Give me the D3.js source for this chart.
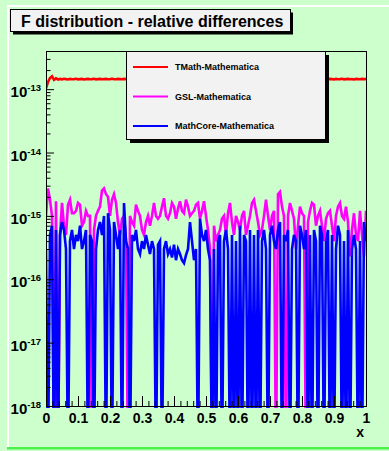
<!DOCTYPE html>
<html>
<head>
<meta charset="utf-8">
<script src="https://cdn.jsdelivr.net/npm/d3@7"></script>
<style>
  body { margin: 0; background: #ccffcc; }
  svg { display: block; font-family: 'Liberation Sans', Arial, Helvetica, sans-serif; font-weight: bold; }
</style>
</head>
<body>
<div id="chart"></div>
<script>
// sampled on x = 0 .. 1, 161 points
const xStart = 0, xStep = 1 / 160;

// TMath - Mathematica, in units of 1e-13
const tmath = [
  1.03, 1.3, 1.5, 1.6, 1.4, 1.48, 1.42, 1.45, 1.43, 1.46,
  1.44, 1.42, 1.45, 1.43, 1.44, 1.46, 1.43, 1.44, 1.45, 1.42,
  1.44, 1.45, 1.43, 1.44, 1.46, 1.43, 1.44, 1.45, 1.43, 1.44,
  1.45, 1.43, 1.44, 1.46, 1.44, 1.43, 1.45, 1.44, 1.43, 1.45,
  1.44, 1.43, 1.45, 1.44, 1.46, 1.43, 1.44, 1.45, 1.43, 1.44,
  1.45, 1.44, 1.43, 1.45, 1.44, 1.46, 1.43, 1.44, 1.45, 1.44,
  1.43, 1.45, 1.44, 1.43, 1.46, 1.44, 1.45, 1.43, 1.44, 1.45,
  1.44, 1.43, 1.45, 1.44, 1.46, 1.43, 1.44, 1.45, 1.44, 1.43,
  1.45, 1.44, 1.43, 1.46, 1.44, 1.45, 1.43, 1.44, 1.45, 1.44,
  1.43, 1.45, 1.44, 1.46, 1.43, 1.44, 1.45, 1.44, 1.43, 1.45,
  1.44, 1.43, 1.46, 1.44, 1.45, 1.43, 1.44, 1.45, 1.44, 1.43,
  1.45, 1.44, 1.46, 1.43, 1.44, 1.45, 1.44, 1.43, 1.45, 1.44,
  1.43, 1.46, 1.44, 1.45, 1.43, 1.44, 1.45, 1.44, 1.43, 1.45,
  1.44, 1.46, 1.43, 1.44, 1.45, 1.44, 1.43, 1.45, 1.44, 1.43,
  1.44, 1.43, 1.45, 1.44, 1.42, 1.45, 1.43, 1.44, 1.46, 1.43,
  1.44, 1.45, 1.43, 1.44, 1.42, 1.45, 1.44, 1.43, 1.45, 1.44,
  1.44
];

// GSL - Mathematica, in units of 1e-16 (0 = exact)
const gsl = [
  10, 27, 18, 10, 0, 17, 0, 5, 16, 7,
  5, 15, 18, 11, 11, 12, 16, 15, 7, 8,
  12, 10, 10, 0, 6, 10, 12, 14, 25, 27,
  22, 20, 10, 18, 22, 16, 8, 5, 9, 10,
  4, 0, 10, 8, 7, 15, 12, 10, 6, 5,
  8, 10, 7, 10, 16, 10, 9, 10, 14, 19,
  10, 9, 11, 16, 14, 9, 13, 17, 12, 11,
  18, 14, 10, 11, 12, 15, 16, 9, 12, 17,
  10, 6, 3, 0, 7, 4, 5, 6, 9, 10,
  5, 11, 16, 8, 5, 10, 8, 6, 10, 12,
  5, 7, 10, 16, 18, 12, 8, 5, 6, 10,
  18, 10, 6, 10, 12, 0, 22, 24, 14, 10,
  0, 10, 16, 12, 9, 3, 7, 14, 11, 10,
  0, 8, 12, 16, 15, 7, 10, 12, 7, 4,
  9, 11, 12, 7, 4, 10, 14, 16, 10, 9,
  14, 8, 2.3, 6, 11, 5, 4, 12, 5, 2.3,
  12
];

// MathCore - Mathematica, in units of 1e-16 (0 = exact)
const mathcore = [
  3, 0, 5, 7, 0, 6, 0, 5, 8, 6,
  3, 0, 4, 6, 3, 5, 4, 7, 3, 4,
  6, 0, 5, 4, 0, 3, 6, 8, 5, 10,
  0, 11, 6, 0, 8, 5, 3, 6, 0, 16,
  4, 3, 0, 5, 4, 6, 3, 2.5, 4, 3,
  5, 3.5, 2.5, 4, 3, 0, 3.5, 4, 0, 3,
  4, 2.5, 3, 2.2, 3.5, 2, 3, 2.5, 2, 1.8,
  2.4, 3, 8, 4, 2, 3, 0, 9, 5, 4,
  6, 3, 2, 0, 3, 0, 4, 5, 0, 4,
  6, 3, 0, 5, 0, 4, 0, 7, 0, 5,
  4, 0, 6, 0, 5, 0, 6, 0, 4, 6,
  3, 0, 5, 7, 4, 3, 6, 8, 0, 5,
  4, 6, 0, 3, 5, 4, 0, 7, 5, 3,
  6, 0, 5, 0, 6, 4, 0, 7, 5, 0,
  4, 6, 0, 5, 0, 3, 7, 5, 0, 4,
  0, 6, 0, 3, 5, 3, 0, 4, 0, 8,
  4
];

const xTickLabels = ['0', '0.1', '0.2', '0.3', '0.4', '0.5', '0.6', '0.7', '0.8', '0.9', '1'];
const yDecades = [-18, -17, -16, -15, -14, -13];
const legendLabels = ['TMath-Mathematica', 'GSL-Mathematica', 'MathCore-Mathematica'];

const width = 389, height = 451;
const frame = { left: 46, right: 366, top: 51, bottom: 406 };

const svg = d3.select('#chart').append('svg')
  .attr('width', width).attr('height', height);

// pad
svg.append('rect').attr('width', width).attr('height', height).attr('fill', '#ccffcc');
svg.append('rect').attr('x', 7).attr('y', 5).attr('width', width - 7).attr('height', 2).attr('fill', '#ffffff');
svg.append('rect').attr('x', 7).attr('y', 5).attr('width', 2).attr('height', 443).attr('fill', '#ffffff');
svg.append('rect').attr('x', 7).attr('y', 447).attr('width', width - 7).attr('height', 2.5).attr('fill', '#4cf24c');

const x = d3.scaleLinear().domain([0, 1]).range([frame.left, frame.right]);
const y = d3.scaleLog().domain([1e-18, 4e-13]).range([frame.bottom, frame.top]);

svg.append('clipPath').attr('id', 'clip')
  .append('rect')
  .attr('x', frame.left).attr('y', frame.top)
  .attr('width', frame.right - frame.left).attr('height', frame.bottom - frame.top + 2);

const series = [
  { values: tmath, unit: 1e-13, color: '#ff0000' },
  { values: gsl, unit: 1e-16, color: '#ff00ff' },
  { values: mathcore, unit: 1e-16, color: '#0000ff' }
];

const line = d3.line()
  .x((d, i) => x(xStart + i * xStep))
  .y(d => y(d > 0 ? d : 1e-19));

const plot = svg.append('g').attr('clip-path', 'url(#clip)');
series.forEach(s => {
  plot.append('path')
    .datum(s.values.map(v => v * s.unit))
    .attr('d', line)
    .attr('fill', 'none')
    .attr('stroke', s.color)
    .attr('stroke-width', 2.6)
    .attr('stroke-linejoin', 'miter');
});

// x axis ticks (pointing up into the frame)
const xMinor = d3.range(0, 51).map(i => i / 50);
svg.append('g')
  .attr('transform', `translate(0,${frame.bottom})`)
  .call(d3.axisBottom(x).tickValues(xMinor).tickSize(-5).tickFormat(''))
  .call(g => g.select('.domain').remove());
svg.append('g')
  .attr('transform', `translate(0,${frame.bottom})`)
  .call(d3.axisBottom(x).tickValues(xTickLabels.map(Number)).tickSize(-10).tickPadding(7)
    .tickFormat((d, i) => xTickLabels[i]))
  .call(g => g.select('.domain').remove())
  .call(g => g.selectAll('text').attr('font-size', 14).attr('font-family', null).attr('fill', '#000'));

// y axis ticks
const yMinor = [];
yDecades.forEach(e => { for (let m = 2; m <= 9; m++) { const v = m * Math.pow(10, e); if (v <= 4e-13) yMinor.push(v); } });
svg.append('g')
  .attr('transform', `translate(${frame.left},0)`)
  .call(d3.axisLeft(y).tickValues(yMinor).tickSize(-4.5).tickFormat(''))
  .call(g => g.select('.domain').remove());
svg.append('g')
  .attr('transform', `translate(${frame.left},0)`)
  .call(d3.axisLeft(y).tickValues(yDecades.map(e => Math.pow(10, e))).tickSize(-8).tickFormat(''))
  .call(g => g.select('.domain').remove());

const yLabels = svg.append('g').selectAll('text')
  .data(yDecades).enter().append('text')
  .attr('x', 41)
  .attr('y', e => y(Math.pow(10, e)) + 8)
  .attr('text-anchor', 'end');
yLabels.append('tspan').attr('font-size', 15).text('10');
yLabels.append('tspan').attr('font-size', 9.5).attr('dy', -6).text(e => String(e));

svg.selectAll('.tick line').attr('stroke', '#000').attr('stroke-width', 1);

// frame
svg.append('rect')
  .attr('x', frame.left + 0.5).attr('y', frame.top + 0.5)
  .attr('width', frame.right - frame.left).attr('height', frame.bottom - frame.top)
  .attr('fill', 'none').attr('stroke', '#000').attr('stroke-width', 1);

svg.append('text')
  .attr('x', 364).attr('y', 437)
  .attr('text-anchor', 'end').attr('font-size', 14)
  .text('x');

// legend
const lg = { x0: 126, y0: 51, x1: 325, y1: 139 };
svg.append('rect')
  .attr('x', lg.x0 + 4).attr('y', lg.y0 + 4)
  .attr('width', lg.x1 - lg.x0).attr('height', lg.y1 - lg.y0)
  .attr('fill', '#000');
svg.append('rect')
  .attr('x', lg.x0 + 0.5).attr('y', lg.y0 + 0.5)
  .attr('width', lg.x1 - lg.x0).attr('height', lg.y1 - lg.y0)
  .attr('fill', '#f2f2f2').attr('stroke', '#000');
const rowY = d3.scalePoint().domain(legendLabels).range([67, 126]);
const entries = svg.append('g').selectAll('g')
  .data(legendLabels).enter().append('g')
  .attr('transform', d => `translate(0,${rowY(d)})`);
entries.append('line')
  .attr('x1', 133).attr('x2', 168)
  .attr('stroke', (d, i) => series[i].color).attr('stroke-width', 2);
entries.append('text')
  .attr('x', 175).attr('y', 3)
  .attr('font-size', 9)
  .text(d => d);

// title
svg.append('rect')
  .attr('x', 13).attr('y', 12.5).attr('width', 280).attr('height', 22)
  .attr('fill', '#000');
svg.append('rect')
  .attr('x', 10.5).attr('y', 9.5).attr('width', 280).attr('height', 22)
  .attr('fill', '#f2f2f2').attr('stroke', '#000');
svg.append('text')
  .attr('x', 21).attr('y', 27)
  .attr('font-size', 16)
  .text('F distribution - relative differences');
</script>
</body>
</html>
